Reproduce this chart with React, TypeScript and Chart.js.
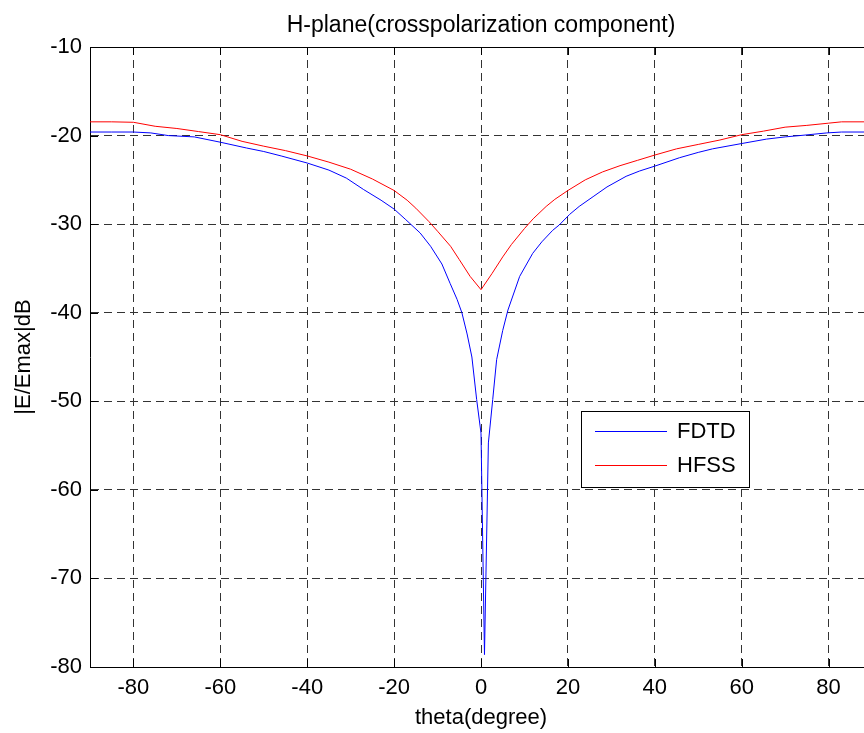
import React, { useEffect, useRef } from 'react';
import { Chart, registerables } from 'chart.js';

Chart.register(...registerables);

const titleText = 'H-plane(crosspolarization component)';
const xAxisLabel = 'theta(degree)';
const yAxisLabel = '|E/Emax|dB';
const xTickValues = [-80, -60, -40, -20, 0, 20, 40, 60, 80];
const yTickValues = [-80, -70, -60, -50, -40, -30, -20, -10];
const seriesLabels = ['FDTD', 'HFSS'];

const fdtdTheta = [
  -90, -85, -80, -76, -72, -66, -60, -54, -50, -46, -40, -35, -31, -27, -23, -20,
  -17.3, -14, -11.6, -9, -7.1, -5.5, -4.4, -3.2, -2.1, -1, 0, 0.8, 1.7, 2.7, 3.6,
  5, 6.2, 8.9, 11.9, 14, 16.5, 18, 20.4, 22.6, 25.8, 29, 33.4, 36.5, 40, 45.7,
  50, 53.3, 60, 65.7, 70, 73.4, 79.6, 83, 90,
];
const fdtdValues = [
  -19.6, -19.6, -19.6, -19.7, -20.0, -20.15, -20.75, -21.4, -21.8, -22.3, -23.1, -23.9, -24.8, -26.1, -27.3, -28.3,
  -29.5, -31.0, -32.5, -34.5, -36.7, -38.5, -40.0, -42.4, -45.0, -49.8, -53.6, -78.6, -54.7, -49.8, -45.3,
  -42.0, -39.7, -35.9, -33.3, -32.0, -30.7, -30.1, -28.9, -28.0, -26.9, -25.8, -24.6, -24.0, -23.45, -22.5,
  -21.9, -21.5, -20.9, -20.4, -20.15, -20.0, -19.7, -19.6, -19.6,
];

const hfssTheta = [
  -90, -85, -80, -75, -70, -65, -60, -55, -50, -45, -40, -35, -30, -25, -20, -17,
  -15, -12, -10, -7, -5, -2.5, 0, 2.5, 5, 7, 10, 12, 15, 17, 20, 24, 28, 32, 36,
  40, 45, 50, 55, 60, 65, 70, 75, 80, 83, 90,
];
const hfssValues = [
  -18.45, -18.45, -18.5, -18.95, -19.2, -19.55, -19.9, -20.65, -21.2, -21.7, -22.3, -23.0, -23.8, -24.9, -26.2, -27.3,
  -28.2, -29.7, -30.8, -32.5, -34.0, -35.9, -37.4, -35.6, -33.7, -32.3, -30.5, -29.4, -28.0, -27.2, -26.2, -25.0, -24.1, -23.4, -22.8,
  -22.2, -21.5, -21.0, -20.5, -19.9, -19.5, -19.05, -18.85, -18.6, -18.45, -18.45,
];

const FONT = "'Liberation Sans', Arial, sans-serif";

const framePlugin = {
  id: 'matlabFrame',
  afterDraw(chart: any) {
    const { ctx, chartArea: ca, scales } = chart;
    const xs = scales.x;
    const ys = scales.y;
    ctx.save();
    ctx.strokeStyle = '#000';
    ctx.lineWidth = 1;
    ctx.setLineDash([]);
    // top border
    ctx.beginPath();
    ctx.moveTo(ca.left, Math.round(ca.top) + 0.5);
    ctx.lineTo(ca.right, Math.round(ca.top) + 0.5);
    ctx.stroke();
    // inner ticks
    ctx.beginPath();
    xTickValues.forEach((v) => {
      const px = Math.round(xs.getPixelForValue(v)) + 0.5;
      ctx.moveTo(px, ca.bottom);
      ctx.lineTo(px, ca.bottom - 8);
      ctx.moveTo(px, ca.top);
      ctx.lineTo(px, ca.top + 8);
    });
    yTickValues.forEach((v) => {
      const py = Math.round(ys.getPixelForValue(v)) + 0.5;
      ctx.moveTo(ca.left, py);
      ctx.lineTo(ca.left + 8, py);
    });
    ctx.stroke();

    // title
    ctx.fillStyle = '#000';
    ctx.font = `23px ${FONT}`;
    ctx.textAlign = 'center';
    ctx.textBaseline = 'alphabetic';
    ctx.fillText(titleText, (ca.left + ca.right) / 2, 31.5);

    // legend
    const bx = 581.5, by = 411.5, bw = 168, bh = 76;
    ctx.fillStyle = '#fff';
    ctx.fillRect(bx, by, bw, bh);
    ctx.strokeStyle = '#000';
    ctx.strokeRect(bx, by, bw, bh);
    const rows = [431.5, 465.5];
    chart.data.datasets.forEach((ds: any, i: number) => {
      ctx.strokeStyle = ds.borderColor;
      ctx.beginPath();
      ctx.moveTo(595, rows[i]);
      ctx.lineTo(667, rows[i]);
      ctx.stroke();
      ctx.fillStyle = '#000';
      ctx.font = `22px ${FONT}`;
      ctx.textAlign = 'left';
      ctx.textBaseline = 'middle';
      ctx.fillText(ds.label, 677, rows[i] + 0.5);
    });
    ctx.restore();
  },
};

export default function App() {
  const canvasRef = useRef<HTMLCanvasElement | null>(null);

  useEffect(() => {
    if (!canvasRef.current) return;
    const chart = new Chart(canvasRef.current, {
      type: 'line',
      data: {
        datasets: [
          {
            label: seriesLabels[0],
            data: fdtdTheta.map((t, i) => ({ x: t, y: fdtdValues[i] })),
            borderColor: '#0000ff',
            backgroundColor: '#0000ff',
            borderWidth: 1,
            pointRadius: 0,
            tension: 0,
          },
          {
            label: seriesLabels[1],
            data: hfssTheta.map((t, i) => ({ x: t, y: hfssValues[i] })),
            borderColor: '#ff0000',
            backgroundColor: '#ff0000',
            borderWidth: 1,
            pointRadius: 0,
            tension: 0,
          },
        ],
      },
      options: {
        animation: false,
        responsive: false,
        maintainAspectRatio: false,
        layout: { padding: { left: 0, right: 8, top: 47, bottom: 0 } },
        plugins: {
          legend: { display: false },
          title: { display: false },
          tooltip: { enabled: false },
        },
        scales: {
          x: {
            type: 'linear',
            min: -90,
            max: 90,
            afterBuildTicks: (scale: any) => {
              scale.ticks = xTickValues.map((v) => ({ value: v }));
            },
            afterFit: (scale: any) => {
              scale.height = 66;
            },
            grid: { color: '#333', lineWidth: 1, drawTicks: false },
            border: { display: true, color: '#000', width: 1, dash: [8, 5] },
            ticks: {
              color: '#000',
              font: { family: FONT, size: 22 },
              padding: 8,
              maxRotation: 0,
              autoSkip: false,
            },
            title: {
              display: true,
              text: xAxisLabel,
              color: '#000',
              font: { family: FONT, size: 22 },
              padding: { top: 0, bottom: 1.4 },
            },
          },
          y: {
            type: 'linear',
            min: -80,
            max: -10,
            afterBuildTicks: (scale: any) => {
              scale.ticks = yTickValues.map((v) => ({ value: v }));
            },
            afterFit: (scale: any) => {
              scale.width = 90;
            },
            grid: { color: '#333', lineWidth: 1, drawTicks: false },
            border: { display: true, color: '#000', width: 1, dash: [8, 5] },
            ticks: {
              color: '#000',
              font: { family: FONT, size: 22 },
              padding: 8,
              autoSkip: false,
            },
            title: {
              display: true,
              text: yAxisLabel,
              color: '#000',
              font: { family: FONT, size: 22 },
              padding: { top: 11, bottom: 0 },
            },
          },
        },
      },
      plugins: [framePlugin],
    });
    return () => chart.destroy();
  }, []);

  return (
    <div
      style={{
        position: 'fixed',
        left: 0,
        top: 0,
        width: 864,
        height: 733,
        overflow: 'hidden',
        background: '#fff',
      }}
    >
      <canvas ref={canvasRef} width={880} height={733} style={{ width: 880, height: 733, display: 'block' }} />
    </div>
  );
}
